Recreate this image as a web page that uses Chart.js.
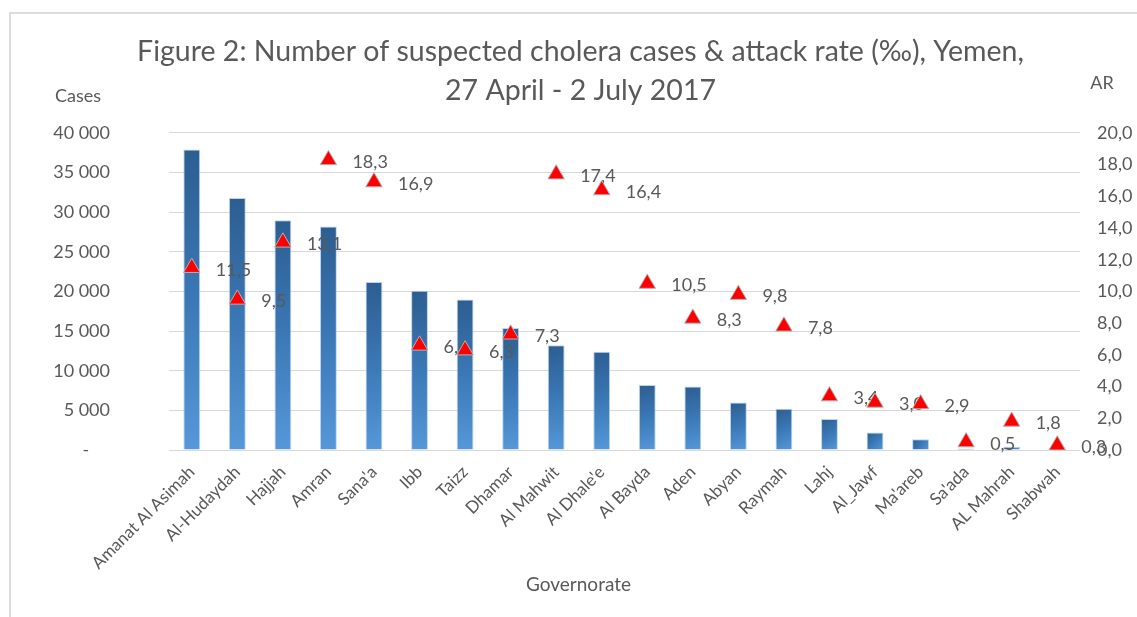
<!DOCTYPE html>
<html>
<head>
<meta charset="utf-8">
<title>Cólera Yemen 2017</title>
<script src="https://cdn.jsdelivr.net/npm/chart.js@4.4.1/dist/chart.umd.min.js"></script>
<style>
    html, body { margin: 0; padding: 0; background: #fff; }
    #marco { position: absolute; left: 9px; top: 12px; width: 1200px; height: 700px;
             border-left: 2px solid #dcdcdc; border-top: 2px solid #dcdcdc; }
    #contenedor { position: absolute; left: 0; top: 0; width: 1137px; height: 617px; }
</style>
</head>
<body>
<div id="marco"></div>
<div id="contenedor"><canvas id="chart"></canvas></div>
<script>
const gobernaciones = ['Amanat Al Asimah', 'Al-Hudaydah', 'Hajjah', 'Amran', "Sana'a", 'Ibb', 'Taizz',
    'Dhamar', 'Al Mahwit', "Al Dhale'e", 'Al Bayda', 'Aden', 'Abyan', 'Raymah', 'Lahj', 'Al_Jawf',
    "Ma'areb", "Sa'ada", 'AL Mahrah', 'Shabwah']
const casos = [37900, 31800, 29000, 28200, 21200, 20100, 19000, 15400, 13200, 12400,
    8200, 8000, 6000, 5200, 3900, 2200, 1350, 200, 400, 300]
const tasaAtaque = [11.5, 9.5, 13.1, 18.3, 16.9, 6.6, 6.3, 7.3, 17.4, 16.4,
    10.5, 8.3, 9.8, 7.8, 3.4, 3.0, 2.9, 0.5, 1.8, 0.3]
const titulo = ['Figure 2: Number of suspected cholera cases & attack rate (‰), Yemen,', '27 April - 2 July 2017']
const rangoCasos = [0, 40000, 5000]
const rangoTasa = [0, 20, 2]

const GRIS = '#595959'
Chart.defaults.font.family = 'Lato'
Chart.defaults.color = GRIS

function formatoMiles(valor){
    if(valor === 0) return '-\u2007\u2007'
    const miles = Math.floor(valor / 1000)
    return miles + ' ' + String(valor % 1000).padStart(3, '0')
}

function formatoComa(valor){
    return valor.toFixed(1).replace('.', ',')
}

// degradado de cada barra, de arriba-izquierda a abajo-derecha
function colorBarra(c){
    const {ctx, scales} = c.chart
    if(!scales.x || !scales.y || c.raw == null) return '#3f7fbf'
    const cx = scales.x.getPixelForValue(c.dataIndex)
    const ancho = scales.x.width / gobernaciones.length * 0.37
    const arriba = scales.y.getPixelForValue(c.raw)
    const abajo = scales.y.getPixelForValue(0)
    if(![cx, ancho, arriba, abajo].every(Number.isFinite) || abajo <= arriba) return '#3f7fbf'
    const g = ctx.createLinearGradient(cx - ancho / 2, arriba, cx + ancho / 2, abajo)
    g.addColorStop(0, '#2c5e90')
    g.addColorStop(0.5, '#3b78b6')
    g.addColorStop(1, '#5698d8')
    return g
}

// etiquetas de la tasa, encima de las barras pero debajo de los triangulos
const etiquetasTasa = {
    id: 'etiquetasTasa',
    afterDatasetDraw(chart, args){
        if(args.index !== 0) return
        const meta = chart.getDatasetMeta(1)
        const ctx = chart.ctx
        ctx.save()
        ctx.font = '18px Lato'
        ctx.fillStyle = GRIS
        ctx.textAlign = 'left'
        ctx.textBaseline = 'middle'
        meta.data.forEach((punto, i) => {
            ctx.fillText(formatoComa(tasaAtaque[i]), punto.x + 24, punto.y + 2)
        })
        ctx.restore()
    }
}

const textosEjes = {
    id: 'textosEjes',
    afterDraw(chart){
        const {ctx, chartArea} = chart
        ctx.save()
        ctx.fillStyle = GRIS
        ctx.textAlign = 'center'
        ctx.textBaseline = 'middle'
        ctx.font = '18px Lato'
        ctx.fillText('Cases', chartArea.left - 91, chartArea.top - 37)
        ctx.fillText('AR', chartArea.right + 22, chartArea.top - 50)
        ctx.font = '19px Lato'
        ctx.fillText('Governorate', (chartArea.left + chartArea.right) / 2 - 46, chartArea.bottom + 135)
        ctx.restore()
    }
}

const ctx = document.getElementById('chart')
new Chart(ctx, {
    type: 'bar',
    data: {
        labels: gobernaciones,
        datasets: [{
            label: 'Cases',
            data: casos,
            yAxisID: 'y',
            order: 2,
            backgroundColor: colorBarra,
            borderColor: 'rgba(170,200,235,0.8)',
            borderWidth: 1,
            barPercentage: 0.37,
            categoryPercentage: 1
        },{
            type: 'line',
            label: 'AR',
            data: tasaAtaque,
            yAxisID: 'y1',
            order: 1,
            showLine: false,
            pointStyle: 'triangle',
            pointRadius: 9.5,
            backgroundColor: '#ff0000',
            borderColor: '#b3b3b3',
            pointBorderWidth: 1
        }]
    },
    options: {
        responsive: true,
        maintainAspectRatio: false,
        animation: false,
        layout: { padding: { top: 0, left: 24, right: 0, bottom: 0 } },
        plugins: {
            legend: { display: false },
            tooltip: { enabled: false },
            title: {
                display: true,
                text: titulo,
                color: GRIS,
                font: { size: 28.5, weight: 'normal', lineHeight: 1.35 },
                padding: { top: 33, bottom: 23 }
            }
        },
        scales: {
            x: {
                grid: { display: false },
                border: { display: false },
                ticks: { minRotation: 45, maxRotation: 45, autoSkip: false, padding: 4, font: { size: 17 } },
                afterFit(escala){ escala.height = 167 }
            },
            y: {
                position: 'left',
                min: rangoCasos[0], max: rangoCasos[1],
                grid: { color: '#d9d9d9', drawTicks: false },
                border: { display: false },
                ticks: { stepSize: rangoCasos[2], padding: 59, font: { size: 18 }, callback: v => formatoMiles(v) },
                afterFit(escala){ escala.width = 145 }
            },
            y1: {
                position: 'right',
                min: rangoTasa[0], max: rangoTasa[1],
                grid: { display: false, drawTicks: false },
                border: { display: false },
                ticks: { stepSize: rangoTasa[2], padding: 17, font: { size: 18 }, callback: v => formatoComa(v) },
                afterFit(escala){ escala.width = 57 }
            }
        }
    },
    plugins: [etiquetasTasa, textosEjes]
})
</script>
</body>
</html>
